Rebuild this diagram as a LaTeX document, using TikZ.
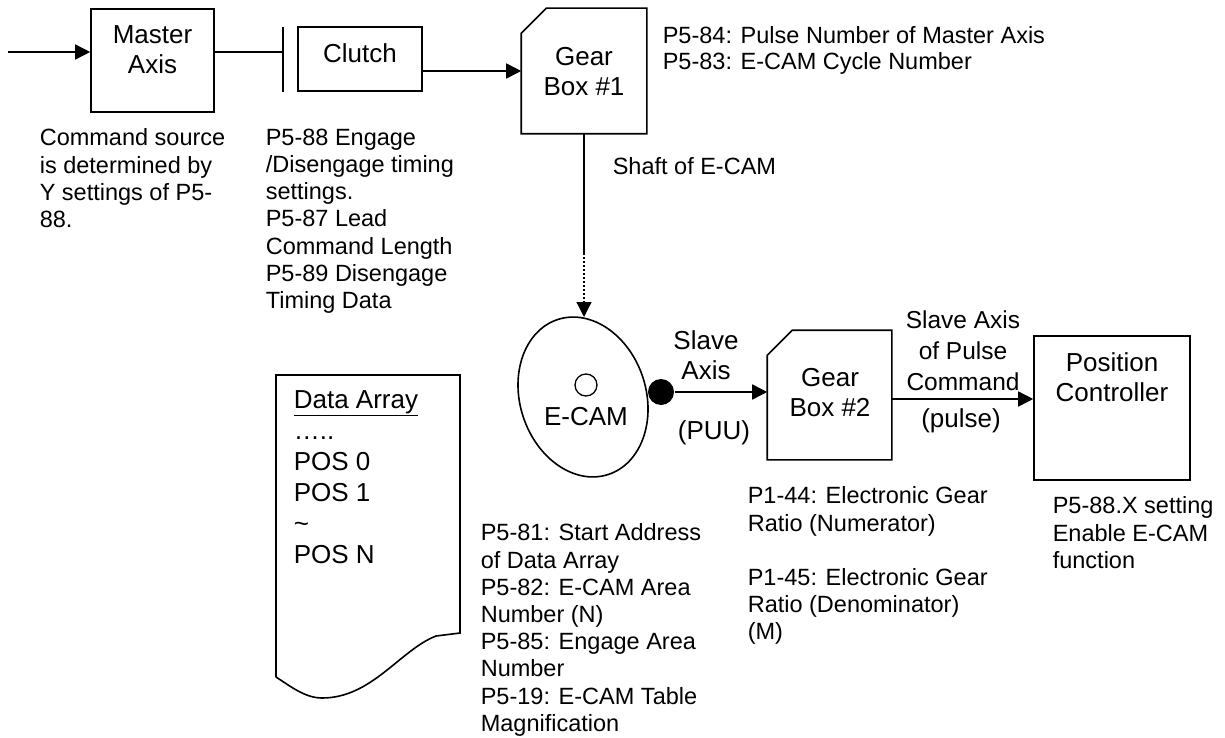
\documentclass[tikz,border=0pt]{standalone}
\usepackage{fontspec}
\setmainfont{Liberation Sans}
\usetikzlibrary{arrows.meta,shapes.geometric}
\begin{document}
\begin{tikzpicture}[x=1pt,y=-1pt,
  line width=1.6pt,
  box/.style={draw, rectangle, inner sep=0pt},
  hid/.style={rectangle, inner sep=0pt},
  big/.style={font=\fontsize{26}{30}\selectfont, align=center, inner sep=0pt, anchor=north},
  small/.style={font=\fontsize{23.5}{27.2}\selectfont, align=left, inner sep=0pt, anchor=north west},
  arr/.style={-{Triangle[length=15pt,width=15pt]}},
  shaftdots/.style={line width=1.2pt, dash pattern=on 2pt off 2pt}
]
\useasboundingbox (0,0) rectangle (1225,738);

% boxes
\node[box, minimum width=123pt, minimum height=103pt] (master) at (152.5,60.5) {};
\node[big] (masterT) at (152.5,25) {Master\\Axis};

\node[box, minimum width=124pt, minimum height=64pt] (clutch) at (360,59) {};
\node[big] (clutchT) at (360,43) {Clutch};

\node[hid, minimum width=124pt, minimum height=124pt] (g1) at (584,71) {};
\draw ([yshift=-25pt]g1.north west) -- ([xshift=25pt]g1.north west) -- (g1.north east) -- (g1.south east) -- (g1.south west) -- cycle;
\node[big] (g1T) at (584,47) {Gear\\Box \#1};

\node[hid, minimum width=123pt, minimum height=128pt] (g2) at (829.5,395) {};
\draw ([yshift=-25pt]g2.north west) -- ([xshift=25pt]g2.north west) -- (g2.north east) -- (g2.south east) -- (g2.south west) -- cycle;
\node[big] (g2T) at (830,368) {Gear\\Box \#2};

\node[box, minimum width=156pt, minimum height=144pt] (pc) at (1112,408) {};
\node[big] (pcT) at (1112,352) {Position\\Controller};

% E-CAM
\node[draw, ellipse, inner sep=0pt, minimum width=126pt, minimum height=163pt, rotate=18] (ecam) at (583,397) {};
\node[draw, circle, inner sep=0pt, minimum size=22pt, line width=1.3pt] (hub) at (586,385) {};
\node[big] (ecamT) at (586,407) {E-CAM};
\node[circle, fill, inner sep=0pt, minimum size=26pt] (dot) at (661,392) {};

% connectors
\coordinate (inp) at (8,52);
\draw[arr] (inp) -- (inp -| master.west);
\coordinate (bar) at (283,52);
\draw (bar -| master.east) -- (bar);
\draw ([yshift=25pt]bar) -- ([yshift=-40pt]bar);
\draw[arr] ([yshift=-12pt]clutch.east) -- ([yshift=-12pt]clutch.east -| g1.west);
\coordinate (sb) at (584,253);
\coordinate (st) at (584,317);
\draw (g1.south) -- (sb);
\draw[arr, shaftdots] (sb) -- (st);
\draw[arr] (dot) -- (dot -| g2.west);
\draw[arr] ([yshift=-4pt]g2.east) -- ([yshift=-4pt]g2.east -| pc.west);

% connector labels
\node[big] (slaveT) at (706,330) {Slave\\Axis};
\node[big] (puuT) at (714,420) {(PUU)};
\node[big, font=\fontsize{24.5}{31}\selectfont] (spcT) at (963,310) {Slave Axis\\of Pulse\\Command};
\node[big] (pulseT) at (961,408) {(pulse)};

% data array
\draw (276,677) -- (276,375) -- (460,375) -- (460,633) -- (436,636)
  .. controls (400,650) and (372,698) .. (322,698)
  .. controls (305,698) and (290,686) .. (276,677);
\node[font=\fontsize{26}{31}\selectfont, align=left, inner sep=0pt, anchor=north west] (dataT) at (293,390)
  {\underline{Data Array}\\….. \\POS 0\\POS 1\\\textasciitilde\\POS N};

% notes
\node[small] (cmdT) at (39,128) {Command source\\is determined by\\Y settings of P5-\\88.};
\node[small] (engT) at (265,128) {P5-88 Engage\\/Disengage timing\\settings.\\P5-87 Lead\\Command Length\\P5-89 Disengage\\Timing Data};
\node[small, font=\fontsize{23.5}{26}\selectfont] (p584T) at (662,26) {P5-84: Pulse Number of Master Axis\\P5-83: E-CAM Cycle Number};
\node[small] (shaftT) at (612,157) {Shaft of E-CAM};
\node[small] (p581T) at (480,523) {P5-81: Start Address\\of Data Array\\P5-82: E-CAM Area\\Number (N)\\P5-85: Engage Area\\Number\\P5-19: E-CAM Table\\Magnification};
\node[small] (p144T) at (747,486) {P1-44: Electronic Gear\\Ratio (Numerator)\\[27.2pt]P1-45: Electronic Gear\\Ratio (Denominator)\\(M)};
\node[small] (p588xT) at (1052,496) {P5-88.X setting\\Enable E-CAM\\function};
\end{tikzpicture}
\end{document}
